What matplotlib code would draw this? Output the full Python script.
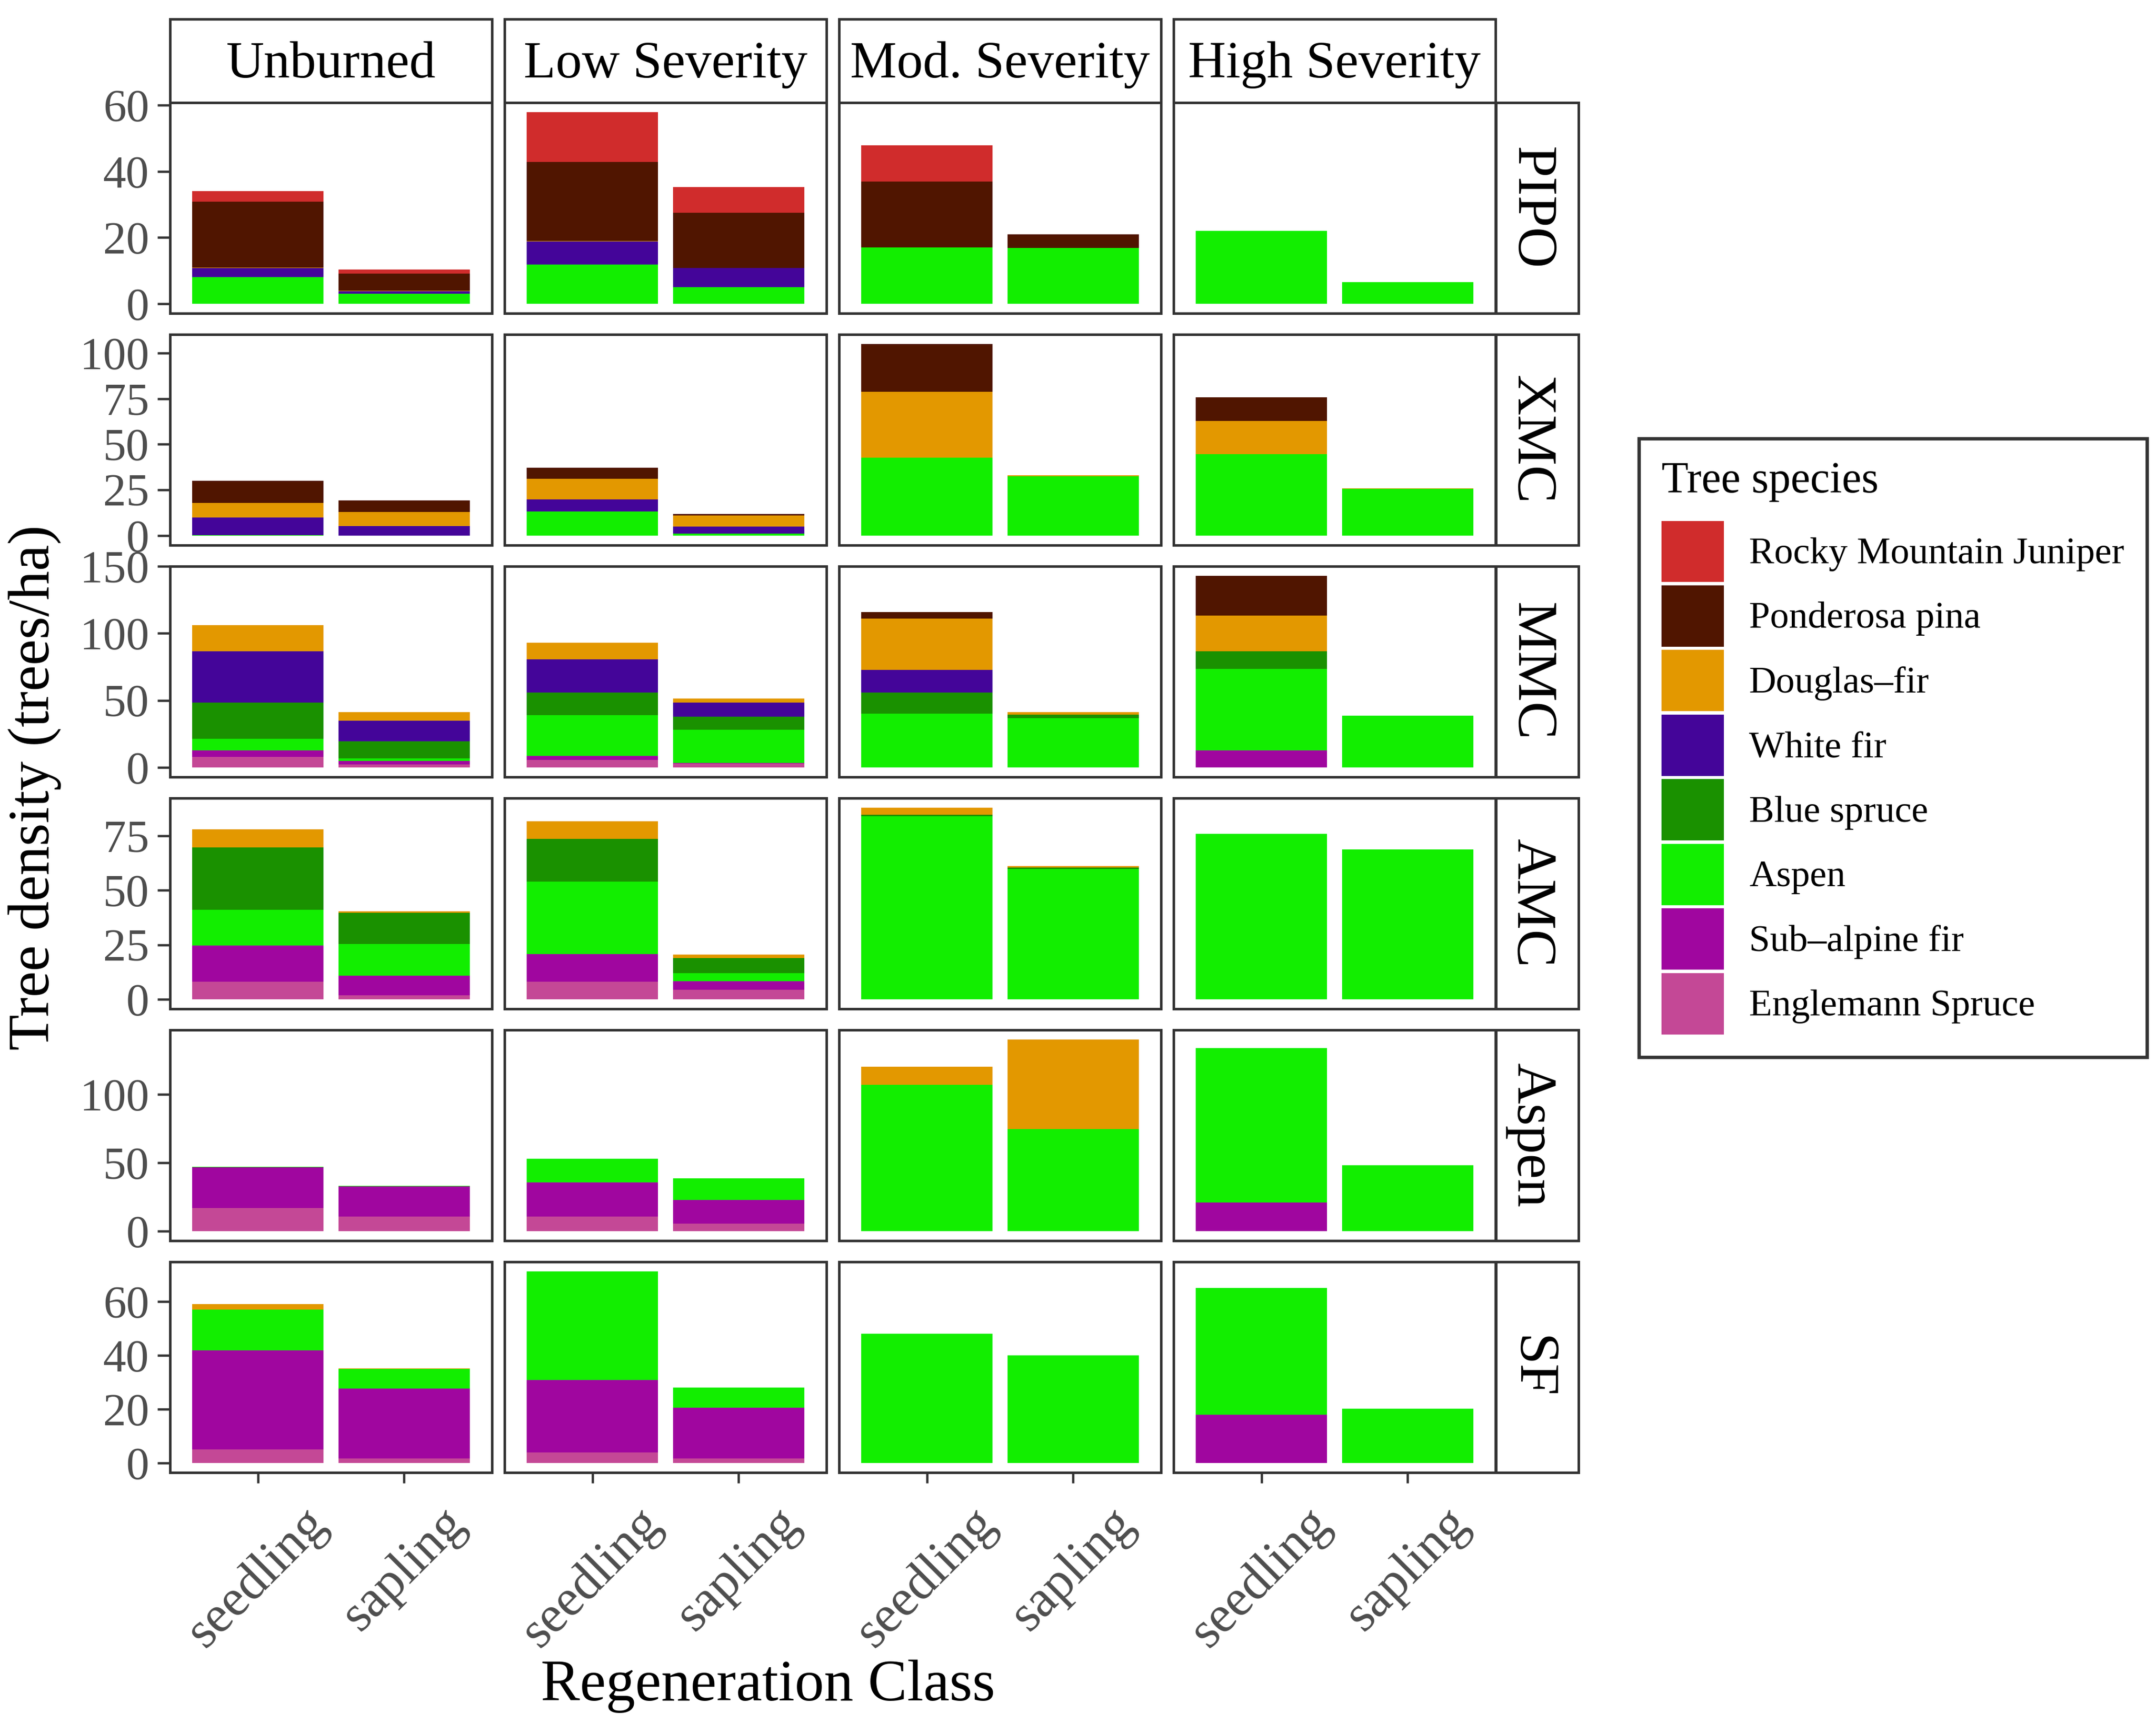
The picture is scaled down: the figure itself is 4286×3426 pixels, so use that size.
import matplotlib
matplotlib.use("Agg")
import matplotlib.pyplot as plt
from matplotlib.patches import Patch
import numpy as np

plt.rcParams['font.family'] = ['Liberation Serif', 'DejaVu Serif']

# legend order (top of stack first)
species = ["Rocky Mountain Juniper", "Ponderosa pina", "Douglas\u2013fir", "White fir",
           "Blue spruce", "Aspen", "Sub\u2013alpine fir", "Englemann Spruce"]
colors = ['#D02C2C', '#501500', '#E39800', '#440599',
          '#1A9100', '#12EE00', '#A0069F', '#C44896']

severities = ["Unburned", "Low Severity", "Mod. Severity", "High Severity"]
regen_classes = ["seedling", "sapling"]
forest_types = ["PIPO", "XMC", "MMC", "AMC", "Aspen", "SF"]

# rows: Unburned seedling/sapling, Low seedling/sapling, Mod ..., High ...
# cols: species in legend order
pipo = [[3.2, 19.8, 0.2, 2.8, 0, 8.0, 0, 0],
        [1.3, 5.2, 0.1, 0.7, 0, 3.1, 0, 0],
        [15.0, 23.9, 0.1, 7.1, 0, 11.8, 0, 0],
        [7.7, 16.7, 0, 5.8, 0, 5.0, 0, 0],
        [11.0, 19.9, 0, 0, 0, 17.0, 0, 0],
        [0, 4.0, 0.1, 0, 0, 16.8, 0, 0],
        [0, 0, 0, 0, 0, 22.0, 0, 0],
        [0, 0, 0, 0, 0, 6.6, 0, 0]]

xmc = [[0, 12.1, 8.1, 9.6, 0, 0.3, 0, 0],
       [0, 6.4, 7.7, 5.2, 0, 0, 0, 0],
       [0, 6.0, 11.4, 6.4, 0, 13.3, 0, 0],
       [0, 0.8, 6.2, 3.9, 0, 1.0, 0, 0],
       [0, 26.1, 36.1, 0, 0, 42.7, 0, 0],
       [0, 0, 0.3, 0, 0, 32.6, 0, 0],
       [0, 12.9, 18.2, 0, 0, 44.7, 0, 0],
       [0, 0, 0.4, 0, 0, 25.5, 0, 0]]

mmc = [[0, 0, 19.5, 38.5, 26.9, 8.7, 4.6, 8.0],
       [0, 0, 6.4, 15.4, 12.6, 1.9, 2.7, 2.3],
       [0, 0, 12.2, 24.7, 17.0, 30.3, 3.0, 5.7],
       [0, 0, 3.0, 10.6, 9.8, 24.8, 0.4, 2.8],
       [0, 4.6, 38.5, 16.7, 15.9, 40.1, 0, 0],
       [0, 0, 1.9, 0, 2.7, 36.7, 0, 0],
       [0, 29.8, 26.4, 0, 13.3, 60.8, 12.6, 0],
       [0, 0, 0, 0, 0, 38.5, 0, 0]]

amc = [[0, 0, 8.2, 0, 28.7, 16.3, 16.6, 8.1],
       [0, 0, 0.6, 0, 14.3, 14.6, 9.0, 1.8],
       [0, 0, 8.0, 0, 19.8, 33.1, 12.7, 8.1],
       [0, 0, 1.5, 0, 7.1, 3.6, 3.9, 4.4],
       [0, 0, 3.2, 0, 0.7, 84.0, 0, 0],
       [0, 0, 0.7, 0, 0.6, 59.8, 0, 0],
       [0, 0, 0, 0, 0, 75.8, 0, 0],
       [0, 0, 0, 0, 0, 68.7, 0, 0]]

aspen = [[0, 0, 0, 0, 0, 0.5, 29.9, 16.9],
         [0, 0, 0, 0, 0, 0.4, 22.1, 10.8],
         [0, 0, 0, 0, 0, 17.6, 24.8, 10.8],
         [0, 0, 0, 0, 0, 15.8, 17.1, 5.6],
         [0, 0, 13.5, 0, 0, 107.0, 0, 0],
         [0, 0, 65.5, 0, 0, 74.8, 0, 0],
         [0, 0, 0, 0, 0, 113.1, 20.9, 0],
         [0, 0, 0, 0, 0, 48.4, 0, 0]]

sf = [[0, 0, 2.0, 0, 0, 15.1, 36.9, 5.0],
      [0, 0, 0.2, 0, 0, 7.4, 26.0, 1.6],
      [0, 0, 0, 0, 0, 40.3, 27.0, 3.9],
      [0, 0, 0, 0, 0, 7.6, 18.9, 1.6],
      [0, 0, 0, 0, 0, 48.0, 0, 0],
      [0, 0, 0, 0, 0, 39.9, 0, 0],
      [0, 0, 0, 0, 0, 47.2, 17.9, 0],
      [0, 0, 0, 0, 0, 20.1, 0, 0]]

row_data = [pipo, xmc, mmc, amc, aspen, sf]
y_steps = [20, 25, 50, 25, 50, 20]

W, H = 4286, 3426
fig = plt.figure(figsize=(W / 300, H / 300), dpi=300)


def box(l, t, r, b):
    return [l / W, 1 - b / H, (r - l) / W, (b - t) / H]


def strip_axes(rect):
    sax = fig.add_axes(rect)
    sax.set_xticks([])
    sax.set_yticks([])
    for sp in sax.spines.values():
        sp.set_color(edge)
        sp.set_linewidth(1.2)
    return sax


col_left = [338, 1003, 1668, 2333]
col_w = 640
row_top = [204, 665, 1126, 1587, 2048, 2509]
row_h = 419
edge = '#333333'
tick_col = '#4D4D4D'

for r, data in enumerate(row_data):
    vals = np.array(data)
    ymax = vals.sum(axis=1).max()
    for c in range(4):
        ax = fig.add_axes(box(col_left[c], row_top[r], col_left[c] + col_w, row_top[r] + row_h))
        for k in range(2):
            seg = vals[c * 2 + k]
            bottom = 0.0
            for s in range(len(species) - 1, -1, -1):
                if seg[s] > 0:
                    ax.bar(k + 1, seg[s], bottom=bottom, width=0.9, color=colors[s], linewidth=0)
                    bottom += seg[s]
        ax.set_xlim(0.4, 2.6)
        ax.set_ylim(-0.05 * ymax, 1.05 * ymax)
        ax.yaxis.set_major_locator(plt.MultipleLocator(y_steps[r]))
        for sp in ax.spines.values():
            sp.set_color(edge)
            sp.set_linewidth(1.2)
        ax.tick_params(axis='y', length=6, width=1.1, color=edge, labelsize=22,
                       labelcolor=tick_col, pad=4, left=(c == 0), labelleft=(c == 0))
        ax.set_xticks([1, 2])
        if r == len(row_data) - 1:
            ax.set_xticklabels(regen_classes, rotation=45, ha='center', va='top')
            ax.tick_params(axis='x', length=5, width=1.1, color=edge, labelsize=25,
                           labelcolor=tick_col, pad=8)
        else:
            ax.tick_params(axis='x', bottom=False, labelbottom=False)

        if r == 0:
            sax = strip_axes(box(col_left[c], 38, col_left[c] + col_w, row_top[0]))
            sax.text(0.5, 0.30, severities[c], ha='center', va='baseline', fontsize=25,
                     transform=sax.transAxes)

    rax = strip_axes(box(2974, row_top[r], 3138, row_top[r] + row_h))
    rax.text(0.256, 0.5, forest_types[r], ha='center', va='baseline', fontsize=27,
             rotation=-90, rotation_mode='anchor', transform=rax.transAxes)

fig.text(1527 / W, 1 - 3353 / H, "Regeneration Class", ha='center', va='center', fontsize=28)
fig.text(69 / W, 1 - 1566 / H, "Tree density (trees/ha)", ha='center', va='center',
         fontsize=28, rotation=90)

handles = [Patch(facecolor=colors[i], edgecolor='none') for i in range(len(species))]
leg = fig.legend(handles, species, loc='upper left', bbox_to_anchor=(3258 / W, 1 - 872 / H),
                 borderaxespad=0, title="Tree species", title_fontsize=21, fontsize=18,
                 frameon=True, fancybox=False, edgecolor='black', handlelength=1.65,
                 handleheight=2.12, labelspacing=0.09, handletextpad=0.67, borderpad=0.6,
                 alignment='left')
leg.get_frame().set_linewidth(1.6)
# more room between the title and the first key
leg._legend_box.sep = 9

fig.savefig("out.png", dpi=300)
